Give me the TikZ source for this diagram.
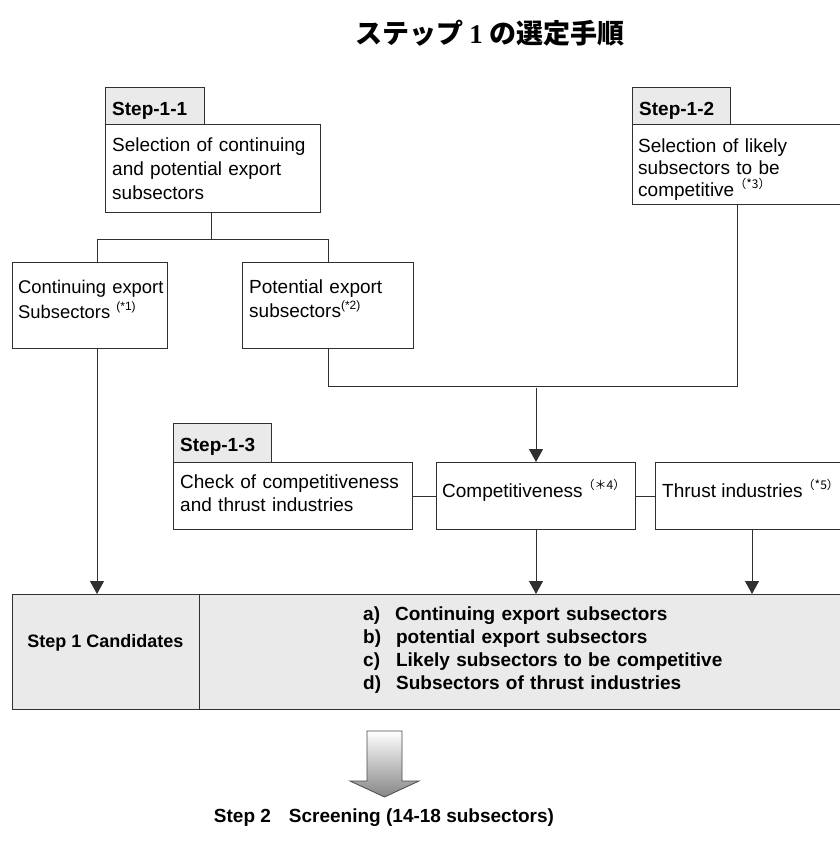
\documentclass[tikz,border=0pt]{standalone}
\usepackage{fontspec}
\setmainfont{Liberation Sans}
\newfontfamily\cjk{Noto Sans CJK JP}
\newfontfamily\serifnum{Liberation Serif}
\usetikzlibrary{arrows.meta}
\definecolor{tabgray}{HTML}{EAEAEA}
\definecolor{linegray}{HTML}{303030}
\newcommand\fnmark[1]{\raisebox{0.4em}{\fontsize{12}{12}\selectfont #1}}
\tikzset{
  frame/.style={draw=linegray, line width=1pt, inner sep=0pt},
  tabbox/.style={frame, fill=tabgray},
  txt/.style={inner sep=0pt, anchor=base west, align=left,
    font=\fontsize{19}{23}\selectfont},
  boldtxt/.style={txt, font=\fontsize{19}{23}\selectfont\bfseries},
  wire/.style={draw=linegray, line width=1pt},
  flow/.style={wire, -{Triangle[width=14pt,length=13pt]}}
}
\begin{document}
\begin{tikzpicture}[x=1pt,y=-1pt]
\clip (0,0) rectangle (840,841);
\fill[white] (0,0) rectangle (840,841);

% title
\node[inner sep=0pt, anchor=base] (title) at (490,43)
  {\fontsize{27}{30}\selectfont\cjk\bfseries ステップ \serifnum 1 \cjk の選定手順};

% Step-1-1
\draw[tabbox] (105,87) rectangle (204,124);
\node[boldtxt] (t11) at (112,115) {Step-1-1};
\draw[frame] (105,124) rectangle (320,212);
\coordinate (b11s) at (211,212);
\node[txt, text width=205pt, font=\fontsize{19}{24}\selectfont] (b11) at (112,151)
  {Selection of continuing\\and potential export\\subsectors};

% Step-1-2
\draw[tabbox] (632,87) rectangle (730,124);
\node[boldtxt] (t12) at (639,115) {Step-1-2};
\draw[frame] (632,124) rectangle (880,204);
\coordinate (b12s) at (737,204);
\node[txt, text width=200pt, font=\fontsize{19}{22}\selectfont] (b12) at (638,152)
  {Selection of likely\\subsectors to be\\competitive\fnmark{\cjk（*3）}};

% second level boxes
\draw[frame] (12,262) rectangle (167,348);
\node[txt, text width=150pt, font=\fontsize{18.4}{25}\selectfont] (cont) at (18,293)
  {Continuing export\\Subsectors \fnmark{(*1)}};
\draw[frame] (242,262) rectangle (413,348);
\node[txt, text width=165pt, font=\fontsize{19}{24}\selectfont] (pot) at (249,293)
  {Potential export\\subsectors\fnmark{(*2)}};
\coordinate (conts) at (97,348);
\coordinate (pots) at (328,348);

% tree from Step-1-1
\coordinate (fork) at (211,239);
\draw[wire] (b11s) -- (fork);
\draw[wire] (97,262) -- (97,239) -- (328,239) -- (328,262);

% merge of potential and likely competitive
\coordinate (mergeL) at (328,386);
\coordinate (mergeR) at (737,386);
\draw[wire] (pots) -- (mergeL) -- (mergeR) -- (b12s);

% Step-1-3
\draw[tabbox] (173,423) rectangle (271,462);
\node[boldtxt] (t13) at (180,451) {Step-1-3};
\draw[frame] (173,462) rectangle (412,529);
\node[txt, text width=235pt, font=\fontsize{19}{23}\selectfont] (check) at (180,488)
  {Check of competitiveness\\and thrust industries};
\draw[frame] (436,462) rectangle (635,529);
\node[txt] (comp) at (442,497) {Competitiveness\fnmark{\cjk（＊4）}};
\draw[frame] (655,462) rectangle (880,529);
\node[txt] (thrust) at (662,497) {Thrust industries\fnmark{\cjk（*5）}};
\draw[wire] (412,496) -- (436,496);
\draw[wire] (635,496) -- (655,496);

\coordinate (compN) at (536,462);
\coordinate (compS) at (536,529);
\coordinate (thrS) at (752,529);
\draw[flow] (536,388) -- (compN);

% candidates table
\draw[frame, fill=tabgray] (12,594) rectangle (880,709);
\draw[wire] (199,594) -- (199,709);
\node[boldtxt, anchor=base, font=\fontsize{18}{22}\selectfont\bfseries] (cand) at (105.5,647) {Step 1 Candidates};
\node[boldtxt, text width=480pt] (list) at (363,620)
  {a)\hspace{15pt}Continuing export subsectors\\
   b)\hspace{15pt}potential export subsectors\\
   c)\hspace{16pt}Likely subsectors to be competitive\\
   d)\hspace{15pt}Subsectors of thrust industries};

\draw[flow] (conts) -- (97,594);
\draw[flow] (compS) -- (536,594);
\draw[flow] (thrS) -- (752,594);

% transition arrow to step 2
\shade[top color=white, bottom color=gray!95, draw=gray!60!black, line width=0.8pt]
  (367,731) -- (402,731) -- (402,781) -- (419,781) -- (384.5,797)
  -- (350,781) -- (367,781) -- cycle;
\node[boldtxt, anchor=base] (step2) at (384,822)
  {Step 2\hspace{18pt}Screening (14-18 subsectors)};
\end{tikzpicture}
\end{document}
